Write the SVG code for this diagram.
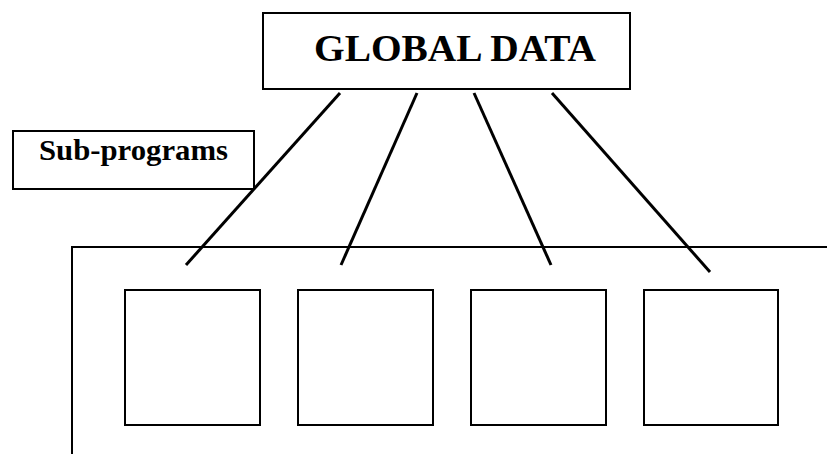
<svg xmlns="http://www.w3.org/2000/svg" width="827" height="454" viewBox="0 0 827 454">
  <style>
    .box { fill: #ffffff; stroke: #000000; stroke-width: 2; }
    .frame { fill: none; stroke: #000000; stroke-width: 2; }
    .link { stroke: #000000; stroke-width: 3; fill: none; }
    .label { font-family: "Liberation Serif", "DejaVu Serif", serif; font-weight: bold; fill: #000000; }
  </style>
  <rect width="827" height="454" fill="#ffffff"/>

  <!-- outer frame holding the sub-programs -->
  <g id="frame">
    <path class="frame" d="M72,454 V247 H827"/>
  </g>

  <g id="global-data">
    <rect class="box" x="263" y="13" width="367" height="76"/>
    <text class="label" x="314" y="61" font-size="38" textLength="282" lengthAdjust="spacingAndGlyphs">GLOBAL DATA</text>
  </g>

  <g id="sub-programs-label">
    <rect class="box" x="13" y="131" width="241" height="58"/>
    <text class="label" x="39" y="160" font-size="29" textLength="189" lengthAdjust="spacingAndGlyphs">Sub-programs</text>
  </g>

  <g id="sub-program-1"><rect class="box" x="125" y="290" width="135" height="135"/></g>
  <g id="sub-program-2"><rect class="box" x="298" y="290" width="135" height="135"/></g>
  <g id="sub-program-3"><rect class="box" x="471" y="290" width="135" height="135"/></g>
  <g id="sub-program-4"><rect class="box" x="644" y="290" width="134" height="135"/></g>

  <g id="connectors">
    <line class="link" x1="340" y1="93" x2="186" y2="265"/>
    <line class="link" x1="417" y1="93" x2="341" y2="265"/>
    <line class="link" x1="474" y1="93" x2="551" y2="265"/>
    <line class="link" x1="552" y1="93" x2="710" y2="272"/>
  </g>
</svg>
